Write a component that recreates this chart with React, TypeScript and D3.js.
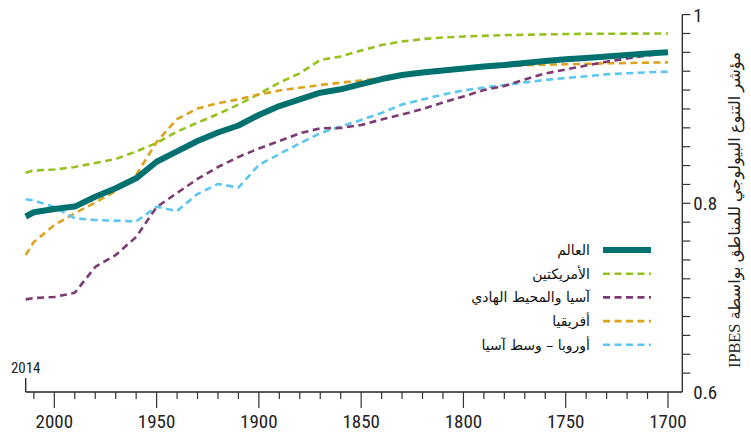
import React, { useEffect, useRef } from 'react'
import * as d3 from 'd3'

// years run backwards: 2014 on the left, 1700 on the right
const years = [2014, 2010, 2000, 1990, 1980, 1970, 1960, 1950, 1940, 1930, 1920, 1910, 1900,
  1890, 1880, 1870, 1860, 1850, 1840, 1830, 1820, 1810, 1800, 1790, 1780, 1770, 1760,
  1750, 1740, 1730, 1720, 1710, 1700]

const world = [0.786, 0.7905, 0.794, 0.7965, 0.807, 0.816, 0.8265, 0.844, 0.855, 0.866, 0.875,
  0.8825, 0.8936, 0.9031, 0.9102, 0.9172, 0.9208, 0.9264, 0.9317, 0.936, 0.9386, 0.9408,
  0.9429, 0.945, 0.9466, 0.9487, 0.9508, 0.9526, 0.954, 0.9556, 0.9572, 0.9587, 0.96]

const americas = [0.8324, 0.8348, 0.8358, 0.8385, 0.8427, 0.8469, 0.8549, 0.8639, 0.8761,
  0.8854, 0.8946, 0.9047, 0.9158, 0.928, 0.9378, 0.9519, 0.9556, 0.9619, 0.9678, 0.9715,
  0.9741, 0.9757, 0.9768, 0.9775, 0.9782, 0.9786, 0.979, 0.9794, 0.9796, 0.9797, 0.9798,
  0.9799, 0.98]

const asiaPacific = [0.6982, 0.6996, 0.7007, 0.7052, 0.7325, 0.7452, 0.7643, 0.796, 0.8109,
  0.8258, 0.8385, 0.8491, 0.8581, 0.866, 0.8742, 0.8795, 0.8798, 0.883, 0.8889, 0.8941, 0.9,
  0.9068, 0.9132, 0.9201, 0.9243, 0.9312, 0.9376, 0.9418, 0.946, 0.9501, 0.9535, 0.9567, 0.9593]

const africa = [0.7452, 0.759, 0.777, 0.7894, 0.8008, 0.813, 0.83, 0.865, 0.8893, 0.9005,
  0.906, 0.9102, 0.9153, 0.9196, 0.9225, 0.9254, 0.9278, 0.9302, 0.9325, 0.9349, 0.9376,
  0.9402, 0.9423, 0.9441, 0.9455, 0.9463, 0.9468, 0.9474, 0.9478, 0.9484, 0.9487, 0.9491, 0.9494]

const europeCentralAsia = [0.8042, 0.803, 0.796, 0.7841, 0.7823, 0.7816, 0.7807, 0.7964,
  0.7918, 0.8099, 0.8205, 0.8167, 0.8406, 0.8522, 0.8636, 0.8742, 0.8814, 0.8883, 0.8957,
  0.9047, 0.91, 0.9153, 0.9196, 0.9227, 0.9254, 0.9282, 0.9307, 0.9328, 0.9347, 0.9367,
  0.9379, 0.9388, 0.9395]

const seriesNames = ['العالم', 'الأمريكتين', 'آسيا والمحيط الهادي', 'أفريقيا', 'أوروبا – وسط آسيا']
const xTickLabels = [2000, 1950, 1900, 1850, 1800, 1750, 1700]
const yTickLabels = [0.6, 0.8, 1]
const yTitle = 'مؤشر التنوع البيولوجي للمناطق بواسطة IPBES'

const width = 751
const height = 432
const numFont = '"Liberation Sans Narrow", "Roboto Condensed", "Arial Narrow", sans-serif'
const arFont = '"DejaVu Sans", sans-serif'

export default function App() {
  const ref = useRef<SVGSVGElement>(null)

  useEffect(() => {
    const svg = d3.select(ref.current)
    svg.selectAll('*').remove()

    const x = d3.scaleLinear().domain([2014, 1693]).range([25.7, 682.3])
    const y = d3.scaleLinear().domain([0.6, 1]).range([392, 14.6])

    const series = [
      { name: seriesNames[0], values: world, color: '#00716f', w: 6, dash: null },
      { name: seriesNames[1], values: americas, color: '#95c11f', w: 2.6, dash: '7,4.5' },
      { name: seriesNames[2], values: asiaPacific, color: '#7b3b72', w: 2.6, dash: '7,4.5' },
      { name: seriesNames[3], values: africa, color: '#dea21f', w: 2.6, dash: '7,4.5' },
      { name: seriesNames[4], values: europeCentralAsia, color: '#5bc7f0', w: 2.6, dash: '7,4.5' }
    ]

    // bottom axis
    const xAxis = svg.append('g').attr('transform', 'translate(0,392)')
    xAxis.append('line').attr('x1', x(2014)).attr('x2', x(1693)).attr('stroke', '#222').attr('stroke-width', 1.3)
    xAxis.append('line').attr('x1', x(2014)).attr('x2', x(2014)).attr('y1', -14).attr('y2', 0)
      .attr('stroke', '#222').attr('stroke-width', 1.3)
    d3.range(2010, 1699, -10).forEach(yr => {
      const major = yr % 50 === 0
      xAxis.append('line').attr('x1', x(yr)).attr('x2', x(yr)).attr('y1', 0).attr('y2', major ? 16 : 7)
        .attr('stroke', '#333').attr('stroke-width', 1.2)
    })
    xAxis.selectAll('text.xl').data(xTickLabels).enter().append('text')
      .attr('x', d => x(d)).attr('y', 36).attr('text-anchor', 'middle')
      .attr('font-family', numFont).attr('font-size', 19).attr('fill', '#222')
      .text(d => d)
    svg.append('text').attr('x', x(2014)).attr('y', 373).attr('text-anchor', 'middle')
      .attr('font-family', numFont).attr('font-size', 15).attr('fill', '#222').text('2014')

    // right axis
    const yAxis = svg.append('g').attr('transform', 'translate(682.3,0)')
    yAxis.append('line').attr('y1', y(0.6)).attr('y2', y(1)).attr('stroke', '#222').attr('stroke-width', 1.3)
    d3.range(0.62, 1.001, 0.02).forEach(v => {
      yAxis.append('line').attr('x1', 0).attr('x2', 8).attr('y1', y(v)).attr('y2', y(v))
        .attr('stroke', '#333').attr('stroke-width', 1.2)
    })
    yAxis.selectAll('text.yl').data(yTickLabels).enter().append('text')
      .attr('x', 11).attr('y', d => y(d) + 7).attr('font-family', numFont)
      .attr('font-size', 19).attr('fill', '#222').text(d => String(d))

    // axis title reads top to bottom, IPBES at the foot
    svg.append('text')
      .attr('transform', 'translate(740,210) rotate(-90)')
      .attr('text-anchor', 'middle')
      .attr('direction', 'rtl')
      .attr('font-family', '"Liberation Serif", "DejaVu Sans", serif')
      .attr('font-size', 16.3).attr('fill', '#222')
      .text(yTitle)

    // lines, world drawn last so it sits on top
    const line = d3.line<number>().x((d, i) => x(years[i])).y(d => y(d))
    const order = [1, 3, 4, 2, 0]
    order.forEach(k => {
      const s = series[k]
      svg.append('path').attr('d', line(s.values))
        .attr('fill', 'none').attr('stroke', s.color).attr('stroke-width', s.w)
        .attr('stroke-dasharray', s.dash).attr('stroke-linejoin', 'round')
    })

    // legend
    const legend = svg.append('g')
    series.forEach((s, i) => {
      const ly = 250 + i * 23.7
      legend.append('line').attr('x1', 603).attr('x2', 651).attr('y1', ly).attr('y2', ly)
        .attr('stroke', s.color).attr('stroke-width', s.w).attr('stroke-dasharray', s.dash)
      legend.append('text').attr('x', 590).attr('y', ly + 5).attr('text-anchor', 'end')
        .attr('font-family', arFont).attr('font-size', 14).attr('fill', '#111')
        .text(s.name)
    })
  }, [])

  return (
    <svg ref={ref} width={width} height={height}
      style={{ position: 'absolute', left: 0, top: 0, background: '#fff' }} />
  )
}
